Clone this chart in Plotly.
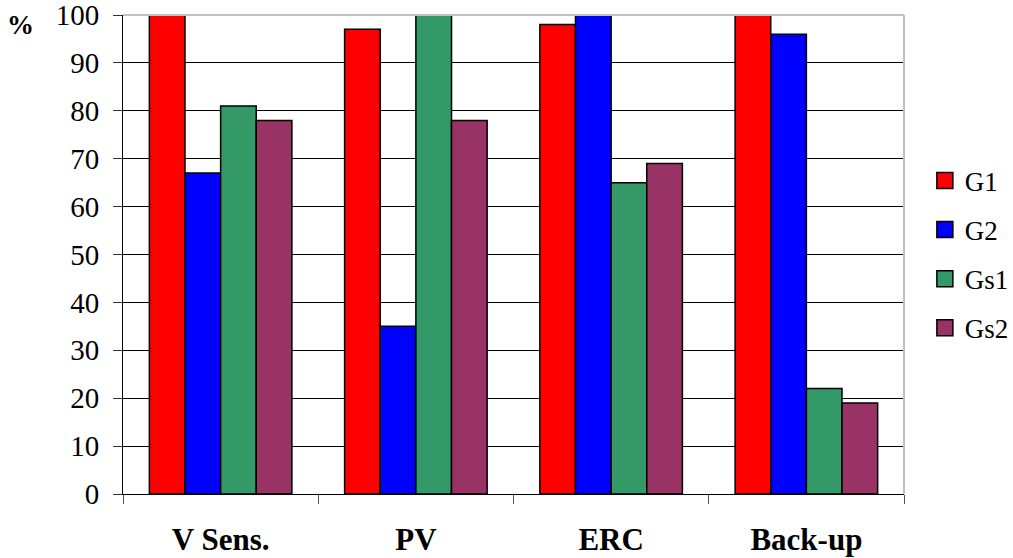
import plotly.graph_objects as go

categories = ["V Sens.", "PV", "ERC", "Back-up"]
series_names = ["G1", "G2", "Gs1", "Gs2"]
g1 = [100, 97, 98, 100]
g2 = [67, 35, 100, 96]
gs1 = [81, 100, 65, 22]
gs2 = [78, 78, 69, 19]
colors = ["#FF0000", "#0000FF", "#339966", "#993366"]
y_ticks = list(range(0, 101, 10))

fig = go.Figure()
for i, (name, vals) in enumerate(zip(series_names, [g1, g2, gs1, gs2])):
    fig.add_trace(go.Bar(
        x=categories, y=vals, name=name, legendgroup=name, showlegend=False,
        marker=dict(color=colors[i], line=dict(color="black", width=1.5)),
    ))
# legend-only entries with larger square swatches
for i, name in enumerate(series_names):
    fig.add_trace(go.Scatter(
        x=[None], y=[None], mode="markers", name=name, legendgroup=name,
        marker=dict(symbol="square", size=16, color=colors[i],
                    line=dict(color="black", width=1.5)),
    ))

font_family = "Liberation Serif"
fig.update_layout(
    width=1013, height=558,
    margin=dict(l=123, r=109, t=15, b=64, autoexpand=False),
    paper_bgcolor="white", plot_bgcolor="white",
    barmode="group", bargap=0.27, bargroupgap=0,
    font=dict(family=font_family, size=26, color="black"),
    showlegend=True,
    legend=dict(xref="container", yref="container", x=0.913, y=0.544,
                xanchor="left", yanchor="middle",
                font=dict(size=27, family=font_family), tracegroupgap=11,
                itemwidth=30),
    xaxis=dict(
        showline=True, linecolor="black", linewidth=1,
        ticks="outside", tickson="boundaries", ticklen=9, tickcolor="#555",
        tickfont=dict(size=31, family=font_family, weight="bold"),
        ticklabelstandoff=18, automargin=False, ticklabeloverflow="allow",
        showgrid=False,
    ),
    yaxis=dict(
        range=[0, 100], tickvals=y_ticks,
        showline=True, linecolor="black", linewidth=1,
        ticks="outside", ticklen=9, tickcolor="#333",
        showgrid=True, gridcolor="black", gridwidth=1,
        tickfont=dict(size=29, family=font_family),
        ticklabelstandoff=8, ticklabeloverflow="allow",
        zeroline=False, automargin=False,
    ),
    annotations=[dict(text="<b>%</b>", x=-0.151, y=0.98, xref="paper", yref="paper",
                      xanchor="left", yanchor="middle", showarrow=False,
                      font=dict(size=27, family=font_family))],
    shapes=[
        dict(type="line", xref="paper", yref="paper", x0=0, x1=1, y0=1, y1=1,
             line=dict(color="#C0C0C0", width=2)),
        dict(type="line", xref="paper", yref="paper", x0=1, x1=1, y0=0, y1=1,
             line=dict(color="#C0C0C0", width=2)),
    ],
)

fig.write_html("out.html")
